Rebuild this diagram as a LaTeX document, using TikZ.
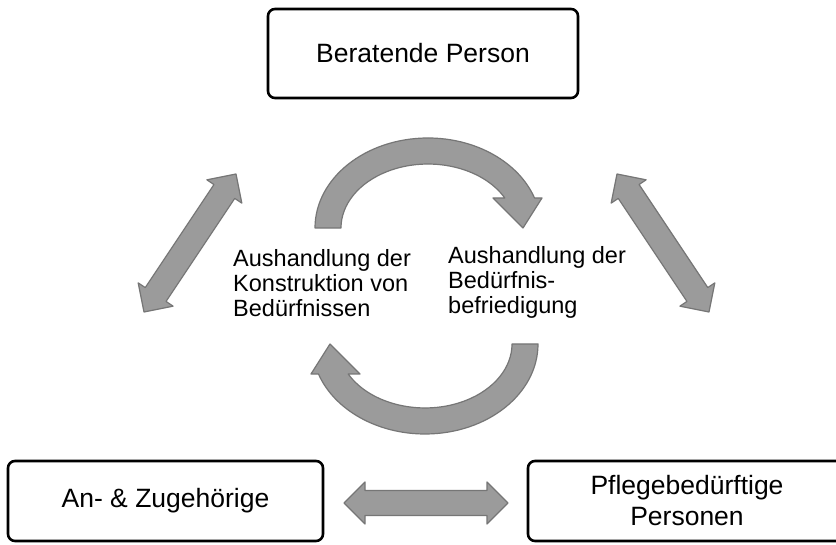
\documentclass[tikz,border=0pt]{standalone}
\usepackage{fontspec}
\setmainfont{Liberation Sans}
\usetikzlibrary{calc}
\definecolor{arrfill}{RGB}{155,155,155}
\definecolor{arredge}{RGB}{118,118,118}
\tikzset{
  box/.style={draw=black, line width=2.6pt, rounded corners=7pt, fill=white, inner sep=0pt},
  boxtext/.style={font=\fontsize{26.5}{31}\selectfont, align=center},
  midtext/.style={font=\fontsize{23.5}{25}\selectfont, align=left, inner sep=0pt, anchor=west},
  arrowshape/.style={fill=arrfill, draw=arredge, line width=1.2pt, line join=round},
}
\newcommand\dblarrow[2]{%
  \path[arrowshape] (#1)
    -- ($(#1)!21pt!(#2)!21pt!90:(#2)$)
    -- ($(#1)!21pt!(#2)!12.5pt!90:(#2)$)
    -- ($(#2)!21pt!(#1)!12.5pt!-90:(#1)$)
    -- ($(#2)!21pt!(#1)!21pt!-90:(#1)$)
    -- (#2)
    -- ($(#2)!21pt!(#1)!21pt!90:(#1)$)
    -- ($(#2)!21pt!(#1)!12.5pt!90:(#1)$)
    -- ($(#1)!21pt!(#2)!12.5pt!-90:(#2)$)
    -- ($(#1)!21pt!(#2)!21pt!-90:(#2)$)
    -- cycle;}
\begin{document}
\begin{tikzpicture}[x=1pt,y=1pt]
  \useasboundingbox (0,0) rectangle (836,545);
  \clip (0,0) rectangle (836,545);
  \fill[white] (0,0) rectangle (836,545);

  % boxes
  \node[box, boxtext, minimum width=310pt, minimum height=89pt] (bp) at (423,491.5) {Beratende Person};
  \node[box, boxtext, minimum width=315pt, minimum height=80pt] (az) at (165.5,44) {An- \& Zugehörige};
  \node[box, boxtext, minimum width=318pt, minimum height=80pt] (pp) at (687,44) {Pflegebedürftige\\Personen};

  % middle texts
  \node[midtext] (kon) at (233,262) {Aushandlung der\\Konstruktion von\\Bedürfnissen};
  \node[midtext] (bef) at (448,263) {Aushandlung der\\Bedürfnis-\\befriedigung};

  % straight double arrows
  \coordinate (l1) at (236,371);
  \coordinate (l2) at (144,233);
  \coordinate (r1) at (617,371);
  \coordinate (r2) at (709,233);
  \coordinate (h1) at (344,42);
  \coordinate (h2) at (508,42);
  \dblarrow{l1}{l2}
  \dblarrow{r1}{r2}
  \dblarrow{h1}{h2}

  % circular arrows
  \path[arrowshape] (315,317)
    arc[start angle=180, end angle=19.5, x radius=113pt, y radius=90pt]
    -- (542,347) -- (523,317) -- (493,347) -- (504.8,347)
    arc[start angle=28, end angle=180, x radius=87pt, y radius=64pt]
    -- cycle;
  \begin{scope}[rotate around={180:(426.5,259)}]
  \path[arrowshape] (315,317)
    arc[start angle=180, end angle=19.5, x radius=113pt, y radius=90pt]
    -- (542,347) -- (523,317) -- (493,347) -- (504.8,347)
    arc[start angle=28, end angle=180, x radius=87pt, y radius=64pt]
    -- cycle;
  \end{scope}
\end{tikzpicture}
\end{document}
